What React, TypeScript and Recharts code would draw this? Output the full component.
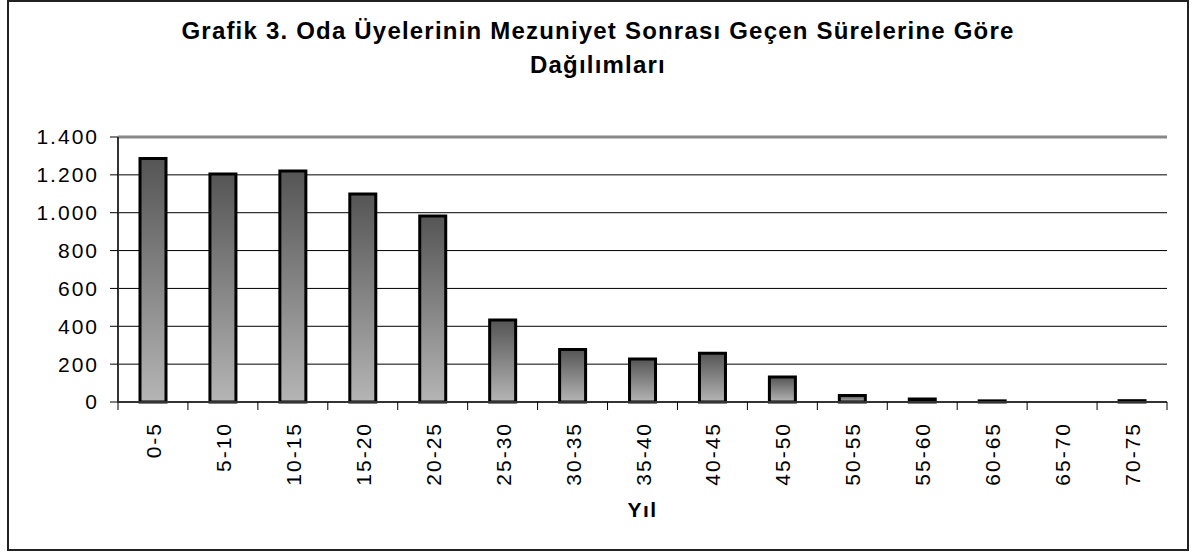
import { BarChart, Bar, XAxis, YAxis, CartesianGrid, ReferenceLine } from "recharts";

const categories = [
  "0-5", "5-10", "10-15", "15-20", "20-25", "25-30", "30-35", "35-40",
  "40-45", "45-50", "50-55", "55-60", "60-65", "65-70", "70-75",
];
const members = [1287, 1204, 1220, 1099, 983, 433, 278, 227, 257, 132, 35, 16, 6, 0, 7];
const yTicks = [0, 200, 400, 600, 800, 1000, 1200, 1400];

const data = categories.map((c, i) => ({ yil: c, uye: members[i] }));

const W = 1194;
const H = 554;
const LEFT = 118;
const RIGHT = 27;
const BAND = (W - LEFT - RIGHT) / categories.length;
const FONT = "'Liberation Sans', Arial, sans-serif";

// 1.400 style thousands separator
const fmt = (v: number) => String(v).replace(/\B(?=(\d{3})+(?!\d))/g, ".");

function XTick(props: any) {
  const { x, y, payload, index } = props;
  const last = index === categories.length - 1;
  return (
    <g>
      <line x1={x - BAND / 2} x2={x - BAND / 2} y1={y} y2={y + 8} stroke="#000" />
      {last && <line x1={x + BAND / 2} x2={x + BAND / 2} y1={y} y2={y + 8} stroke="#000" />}
      <text
        transform={`translate(${x + 8},${y + 20}) rotate(-90)`}
        textAnchor="end"
        fontSize={21}
        fontFamily={FONT}
        letterSpacing={2}
        fill="#000"
      >
        {payload.value}
      </text>
    </g>
  );
}

export default function App() {
  return (
    <div style={{ position: "absolute", left: 0, top: 0, width: W, height: H, background: "#fff" }}>
      <div
        style={{
          position: "absolute", left: 7, top: 0, width: 1182, height: 551,
          border: "2px solid #222", boxSizing: "border-box",
        }}
      />
      <div
        style={{
          position: "absolute", left: 7, width: 1182, top: 14, textAlign: "center",
          fontFamily: FONT, fontWeight: "bold", fontSize: 24, lineHeight: "34px",
          letterSpacing: "1.2px", color: "#000",
        }}
      >
        Grafik 3. Oda Üyelerinin Mezuniyet Sonrası Geçen Sürelerine Göre
        <br />
        Dağılımları
      </div>
      <div style={{ position: "absolute", left: 0, top: 0 }}>
        <BarChart
          width={W}
          height={H}
          data={data}
          margin={{ top: 137, right: RIGHT, left: 0, bottom: 27 }}
          barSize={26}
        >
          <defs>
            <linearGradient id="barGrad" x1="0" y1="0" x2="0" y2="1">
              <stop offset="0%" stopColor="#555555" />
              <stop offset="100%" stopColor="#b5b5b5" />
            </linearGradient>
          </defs>
          <CartesianGrid vertical={false} stroke="#000" strokeWidth={1} />
          <XAxis
            dataKey="yil"
            interval={0}
            height={125}
            tickSize={0}
            tickMargin={0}
            tickLine={false}
            axisLine={{ stroke: "#333", strokeWidth: 2 }}
            tick={<XTick />}
            label={{
              value: "Yıl", position: "insideBottom", offset: 10,
              style: { fontFamily: FONT, fontWeight: "bold", fontSize: 21, letterSpacing: 1.5, fill: "#000" },
            }}
          />
          <YAxis
            domain={[0, 1400]}
            ticks={yTicks}
            interval={0}
            width={LEFT}
            tickSize={8}
            tickMargin={11}
            tickFormatter={fmt}
            axisLine={{ stroke: "#333", strokeWidth: 2 }}
            tickLine={{ stroke: "#000" }}
            tick={{ fontSize: 21, fontFamily: FONT, fill: "#000", letterSpacing: 2 }}
          />
          <YAxis
            yAxisId="frame"
            orientation="right"
            domain={[0, 1400]}
            width={0}
            tick={false}
            tickLine={false}
            axisLine={{ stroke: "#888", strokeWidth: 3 }}
          />
          <ReferenceLine y={1400} stroke="#888" strokeWidth={3} />
          <Bar
            dataKey="uye"
            fill="url(#barGrad)"
            stroke="#000"
            strokeWidth={3}
            isAnimationActive={false}
          />
        </BarChart>
      </div>
    </div>
  );
}
